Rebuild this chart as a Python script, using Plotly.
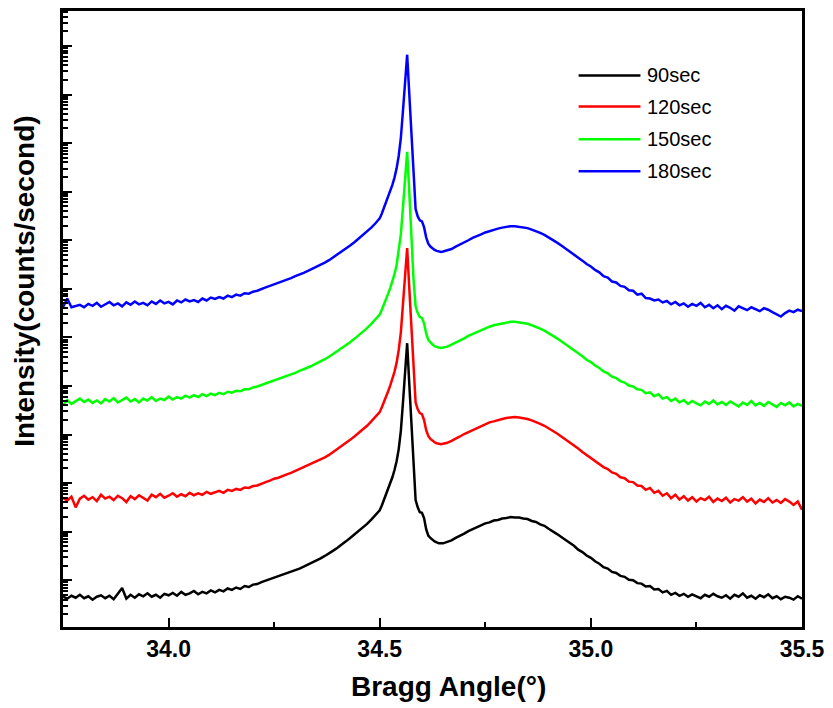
import numpy as np
import plotly.graph_objects as go

# Bragg angle sampling (deg): 0.01 steps, 0.005 steps across the sharp reflection
two_theta = np.concatenate([
    np.round(np.arange(33.75, 34.495, 0.01), 3),
    np.round(np.arange(34.50, 34.6475, 0.005), 3),
    np.round(np.arange(34.65, 35.5005, 0.01), 3),
])

series_names = ["90sec", "120sec", "150sec", "180sec"]
series_colors = ["#000000", "#ff0000", "#00ff00", "#0000ff"]
# curves are stacked by multiplying each one by a constant factor
stack_factor = [1.0, 1e2, 1e4, 1e6]

# log10 of intensity (counts/second) for each deposition time
log_i_90s = [
    0.66, 0.62, 0.68, 0.64, 0.70, 0.63, 0.67, 0.60, 0.66, 0.69,
    0.63, 0.68, 0.61, 0.72, 0.84, 0.62, 0.70, 0.64, 0.71, 0.67,
    0.73, 0.66, 0.70, 0.64, 0.72, 0.69, 0.74, 0.68, 0.76, 0.70,
    0.73, 0.78, 0.71, 0.76, 0.73, 0.79, 0.75, 0.80, 0.77, 0.83,
    0.80, 0.85, 0.82, 0.88, 0.86, 0.91, 0.92, 0.96, 0.99, 1.02,
    1.06, 1.08, 1.12, 1.14, 1.18, 1.21, 1.24, 1.28, 1.32, 1.36,
    1.41, 1.45, 1.50, 1.55, 1.61, 1.67, 1.73, 1.80, 1.87, 1.94,
    2.01, 2.08, 2.16, 2.25, 2.34,
    2.44, 2.54, 2.65, 2.76, 2.88, 3.00, 3.12, 3.27, 3.45, 3.70,
    4.07, 4.65, 5.35, 5.88, 5.05, 4.20, 3.25, 2.65, 2.50, 2.40,
    2.39, 2.28, 2.05, 1.92, 1.87, 1.83, 1.80, 1.78, 1.76, 1.76,
    1.76, 1.79, 1.82, 1.87, 1.91, 1.96, 2.01, 2.05, 2.10, 2.13,
    2.17, 2.19, 2.23, 2.24, 2.27, 2.28, 2.30, 2.29, 2.29, 2.27,
    2.26, 2.22, 2.20, 2.15, 2.12, 2.06, 2.01, 1.95, 1.89, 1.83,
    1.77, 1.71, 1.63, 1.58, 1.51, 1.46, 1.39, 1.34, 1.27, 1.24,
    1.17, 1.15, 1.09, 1.07, 1.01, 1.00, 0.94, 0.93, 0.87, 0.88,
    0.81, 0.82, 0.75, 0.78, 0.70, 0.74, 0.68, 0.72, 0.66, 0.71,
    0.67, 0.63, 0.70, 0.66, 0.72, 0.67, 0.64, 0.69, 0.62, 0.70,
    0.66, 0.73, 0.64, 0.68, 0.62, 0.69, 0.65, 0.71, 0.63, 0.67,
    0.61, 0.66, 0.64, 0.60, 0.67, 0.62,
]

log_i_120s = [
    0.70, 0.64, 0.72, 0.50, 0.68, 0.74, 0.66, 0.71, 0.63, 0.76,
    0.68, 0.72, 0.65, 0.74, 0.69, 0.61, 0.73, 0.67, 0.75, 0.70,
    0.64, 0.76, 0.71, 0.78, 0.70, 0.74, 0.79, 0.72, 0.77, 0.73,
    0.80, 0.75, 0.79, 0.76, 0.82, 0.78, 0.81, 0.84, 0.80, 0.86,
    0.84, 0.88, 0.86, 0.91, 0.90, 0.94, 0.95, 0.99, 1.02, 1.05,
    1.09, 1.11, 1.15, 1.18, 1.21, 1.25, 1.28, 1.32, 1.36, 1.40,
    1.44, 1.49, 1.53, 1.58, 1.64, 1.70, 1.76, 1.82, 1.89, 1.96,
    2.03, 2.10, 2.18, 2.27, 2.36,
    2.46, 2.56, 2.66, 2.77, 2.89, 3.01, 3.14, 3.29, 3.48, 3.74,
    4.10, 4.66, 5.33, 5.84, 5.02, 4.15, 3.22, 2.66, 2.52, 2.44,
    2.42, 2.30, 2.09, 1.97, 1.91, 1.87, 1.84, 1.82, 1.81, 1.80,
    1.81, 1.83, 1.87, 1.91, 1.96, 2.01, 2.05, 2.10, 2.14, 2.18,
    2.21, 2.25, 2.27, 2.30, 2.32, 2.34, 2.35, 2.36, 2.35, 2.34,
    2.32, 2.29, 2.26, 2.22, 2.18, 2.13, 2.08, 2.02, 1.96, 1.90,
    1.84, 1.77, 1.71, 1.64, 1.58, 1.52, 1.46, 1.40, 1.33, 1.29,
    1.22, 1.19, 1.12, 1.10, 1.03, 1.02, 0.95, 0.94, 0.86, 0.90,
    0.80, 0.84, 0.74, 0.79, 0.69, 0.76, 0.66, 0.73, 0.64, 0.71,
    0.62, 0.69, 0.65, 0.72, 0.61, 0.68, 0.63, 0.70, 0.60, 0.67,
    0.64, 0.71, 0.62, 0.68, 0.58, 0.66, 0.61, 0.69, 0.60, 0.65,
    0.59, 0.67, 0.62, 0.55, 0.62, 0.45,
]

log_i_150s = [
    0.60, 0.71, 0.63, 0.69, 0.74, 0.67, 0.72, 0.65, 0.70, 0.64,
    0.73, 0.68, 0.75, 0.66, 0.71, 0.76, 0.68, 0.73, 0.66, 0.74,
    0.70, 0.77, 0.69, 0.74, 0.71, 0.78, 0.72, 0.77, 0.74, 0.80,
    0.76, 0.81, 0.77, 0.83, 0.79, 0.84, 0.81, 0.86, 0.83, 0.88,
    0.86, 0.90, 0.89, 0.93, 0.93, 0.97, 0.99, 1.02, 1.05, 1.08,
    1.11, 1.14, 1.17, 1.20, 1.24, 1.27, 1.31, 1.34, 1.38, 1.42,
    1.46, 1.51, 1.55, 1.60, 1.66, 1.71, 1.77, 1.84, 1.90, 1.97,
    2.04, 2.11, 2.19, 2.28, 2.37,
    2.47, 2.57, 2.67, 2.78, 2.90, 3.02, 3.15, 3.30, 3.49, 3.76,
    4.12, 4.67, 5.30, 5.82, 5.00, 4.12, 3.20, 2.64, 2.50, 2.42,
    2.40, 2.29, 2.08, 1.95, 1.89, 1.85, 1.82, 1.80, 1.79, 1.78,
    1.79, 1.81, 1.85, 1.89, 1.94, 1.98, 2.03, 2.07, 2.11, 2.15,
    2.19, 2.22, 2.25, 2.27, 2.29, 2.31, 2.32, 2.32, 2.31, 2.30,
    2.28, 2.25, 2.22, 2.18, 2.14, 2.09, 2.04, 1.98, 1.92, 1.86,
    1.80, 1.74, 1.67, 1.61, 1.54, 1.49, 1.42, 1.37, 1.30, 1.26,
    1.19, 1.16, 1.10, 1.07, 1.01, 0.99, 0.93, 0.92, 0.85, 0.87,
    0.79, 0.83, 0.74, 0.77, 0.69, 0.74, 0.66, 0.71, 0.63, 0.69,
    0.64, 0.60, 0.68, 0.63, 0.70, 0.62, 0.67, 0.61, 0.68, 0.63,
    0.58, 0.66, 0.61, 0.69, 0.60, 0.65, 0.59, 0.67, 0.62, 0.57,
    0.65, 0.60, 0.66, 0.58, 0.63, 0.59,
]

log_i_180s = [
    0.62, 0.80, 0.62, 0.64, 0.67, 0.62, 0.69, 0.65, 0.71, 0.63,
    0.68, 0.73, 0.66, 0.70, 0.64, 0.72, 0.67, 0.74, 0.68, 0.71,
    0.66, 0.74, 0.69, 0.76, 0.70, 0.73, 0.68, 0.76, 0.72, 0.78,
    0.74, 0.77, 0.73, 0.80, 0.76, 0.82, 0.79, 0.83, 0.80, 0.86,
    0.83, 0.88, 0.86, 0.91, 0.90, 0.94, 0.96, 1.00, 1.03, 1.06,
    1.09, 1.12, 1.15, 1.19, 1.22, 1.26, 1.29, 1.33, 1.37, 1.41,
    1.45, 1.50, 1.54, 1.59, 1.65, 1.70, 1.76, 1.82, 1.89, 1.96,
    2.03, 2.10, 2.18, 2.26, 2.35,
    2.45, 2.55, 2.66, 2.77, 2.89, 3.01, 3.14, 3.29, 3.48, 3.74,
    4.10, 4.66, 5.31, 5.82, 5.02, 4.14, 3.22, 2.64, 2.49, 2.41,
    2.39, 2.27, 2.06, 1.93, 1.87, 1.83, 1.80, 1.78, 1.77, 1.76,
    1.77, 1.79, 1.82, 1.87, 1.91, 1.96, 2.00, 2.05, 2.08, 2.12,
    2.16, 2.19, 2.22, 2.24, 2.26, 2.28, 2.29, 2.29, 2.28, 2.27,
    2.25, 2.22, 2.19, 2.15, 2.11, 2.06, 2.01, 1.95, 1.89, 1.83,
    1.77, 1.71, 1.64, 1.58, 1.51, 1.46, 1.39, 1.34, 1.26, 1.23,
    1.15, 1.13, 1.06, 1.04, 0.97, 0.96, 0.88, 0.90, 0.81, 0.80,
    0.76, 0.78, 0.72, 0.75, 0.68, 0.73, 0.66, 0.70, 0.63, 0.69,
    0.65, 0.71, 0.62, 0.67, 0.60, 0.66, 0.58, 0.65, 0.61, 0.55,
    0.64, 0.60, 0.56, 0.62, 0.58, 0.54, 0.60, 0.57, 0.52, 0.48,
    0.43, 0.50, 0.55, 0.52, 0.57, 0.54,
]

series_logs = [log_i_90s, log_i_120s, log_i_150s, log_i_180s]

FONT = "Liberation Sans, Arial, sans-serif"
W, H = 833, 708
M_L, M_R, M_T, M_B = 63, 29, 8, 81
PW, PH = W - M_L - M_R, H - M_T - M_B

fig = go.Figure()
for name, color, k, logs in zip(series_names, series_colors, stack_factor, series_logs):
    fig.add_trace(go.Scatter(
        x=two_theta,
        y=np.power(10.0, np.array(logs)) * k,
        mode="lines",
        name=name,
        line=dict(color=color, width=2.5),
        showlegend=False,
    ))

# legend drawn as long line swatches with labels
leg_x0, leg_x1, leg_text_x = 580, 642, 647
leg_rows = [72.7, 104, 137, 169]
for name, color, py in zip(series_names, series_colors, leg_rows):
    yp = (H - M_B - py) / PH
    fig.add_shape(type="line", xref="paper", yref="paper",
                  x0=(leg_x0 - M_L) / PW, x1=(leg_x1 - M_L) / PW, y0=yp, y1=yp,
                  line=dict(color=color, width=2.5))
    fig.add_annotation(xref="paper", yref="paper", x=(leg_text_x - M_L) / PW, y=yp,
                       text=name, showarrow=False, xanchor="left", yanchor="middle",
                       font=dict(family=FONT, size=20, color="#000000"))

# axis titles
fig.add_annotation(xref="paper", yref="paper", x=(450 - M_L) / PW, y=(H - M_B - 687) / PH,
                   text="Bragg Angle(°)", showarrow=False, xanchor="center", yanchor="middle",
                   font=dict(family=FONT, size=28, color="#000000", weight="bold"))
fig.add_annotation(xref="paper", yref="paper", x=(25 - M_L) / PW, y=(H - M_B - 280) / PH,
                   text="Intensity(counts/second)", showarrow=False, textangle=-90,
                   xanchor="center", yanchor="middle",
                   font=dict(family=FONT, size=28, color="#000000", weight="bold"))

fig.update_layout(
    width=W, height=H,
    margin=dict(l=M_L, r=M_R, t=M_T, b=M_B),
    paper_bgcolor="white", plot_bgcolor="white",
    showlegend=False,
)
fig.update_xaxes(
    range=[33.75, 35.5], tick0=34.0, dtick=0.5, tickformat=".1f",
    showgrid=False, zeroline=False,
    showline=True, linecolor="black", linewidth=2.5, mirror=True,
    ticks="inside", ticklen=9, tickwidth=2, tickcolor="black",
    minor=dict(dtick=0.25, tick0=33.75, ticks="inside", ticklen=5, tickwidth=2, tickcolor="black", showgrid=False),
    tickfont=dict(family=FONT, size=23, color="#000000", weight="bold"),
)
fig.update_yaxes(
    type="log", range=[0.037, 12.72], dtick=1,
    showticklabels=False, showgrid=False, zeroline=False,
    showline=True, linecolor="black", linewidth=2.5, mirror=True,
    ticks="inside", ticklen=9, tickwidth=2, tickcolor="black",
    minor=dict(dtick="D1", ticks="inside", ticklen=5, tickwidth=1.5, tickcolor="black", showgrid=False),
)

fig.write_html("out.html")
